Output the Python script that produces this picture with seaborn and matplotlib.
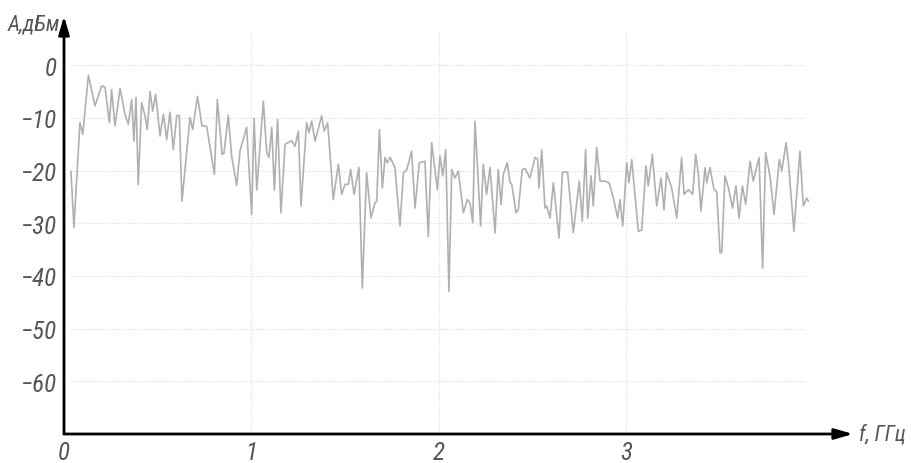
import numpy as np
import pandas as pd
import matplotlib
matplotlib.use("Agg")
import matplotlib.pyplot as plt
from matplotlib import font_manager
import seaborn as sns

# ---------------- data ----------------
freq_ghz = [
    0.037, 0.053, 0.085, 0.100, 0.130, 0.165, 0.201, 0.219, 0.242, 0.254,
    0.272, 0.299, 0.325, 0.343, 0.361, 0.373, 0.384, 0.396, 0.414, 0.432,
    0.444, 0.459, 0.473, 0.489, 0.512, 0.530, 0.548, 0.565, 0.583, 0.601,
    0.615, 0.629, 0.672, 0.686, 0.712, 0.736, 0.761, 0.802, 0.818, 0.843,
    0.853, 0.876, 0.894, 0.921, 0.939, 0.974, 1.001, 1.014, 1.028, 1.063,
    1.081, 1.093, 1.108, 1.122, 1.139, 1.157, 1.179, 1.214, 1.232, 1.250,
    1.264, 1.294, 1.307, 1.321, 1.339, 1.374, 1.388, 1.406, 1.424, 1.436,
    1.463, 1.481, 1.499, 1.516, 1.529, 1.547, 1.573, 1.591, 1.614, 1.637,
    1.659, 1.668, 1.682, 1.698, 1.712, 1.724, 1.739, 1.765, 1.792, 1.810,
    1.828, 1.854, 1.872, 1.895, 1.925, 1.943, 1.961, 1.991, 2.005, 2.020,
    2.036, 2.053, 2.068, 2.085, 2.103, 2.130, 2.151, 2.165, 2.180, 2.192,
    2.222, 2.236, 2.254, 2.272, 2.299, 2.316, 2.331, 2.343, 2.364, 2.379,
    2.388, 2.411, 2.423, 2.444, 2.459, 2.485, 2.512, 2.526, 2.533, 2.548,
    2.565, 2.574, 2.592, 2.610, 2.640, 2.658, 2.686, 2.716, 2.748, 2.764,
    2.782, 2.793, 2.811, 2.823, 2.841, 2.859, 2.885, 2.907, 2.930, 2.953,
    2.965, 2.980, 3.001, 3.013, 3.028, 3.063, 3.081, 3.104, 3.116, 3.138,
    3.161, 3.184, 3.200, 3.214, 3.241, 3.268, 3.294, 3.307, 3.330, 3.353,
    3.369, 3.383, 3.397, 3.419, 3.428, 3.445, 3.467, 3.481, 3.499, 3.508,
    3.525, 3.543, 3.566, 3.584, 3.600, 3.618, 3.636, 3.659, 3.676, 3.707,
    3.726, 3.742, 3.765, 3.787, 3.815, 3.828, 3.851, 3.863, 3.893, 3.925,
    3.943, 3.961, 3.970,
]
level_dbm = [
    -20.1, -30.8, -10.9, -13.1, -1.9, -7.7, -3.9, -4.2, -10.9, -4.6,
    -11.5, -4.4, -9.3, -11.2, -6.5, -14.4, -6.1, -22.6, -7.1, -9.6,
    -12.2, -5.0, -8.7, -5.5, -13.4, -9.3, -14.1, -8.9, -16.0, -9.6,
    -9.5, -25.8, -9.9, -12.2, -5.9, -11.5, -11.6, -20.7, -6.5, -16.9,
    -16.7, -9.5, -17.2, -22.8, -16.2, -11.8, -28.3, -10.1, -23.7, -6.8,
    -16.5, -17.5, -11.8, -23.7, -10.3, -28.0, -15.0, -14.3, -15.4, -12.5,
    -26.7, -10.9, -12.8, -10.6, -14.4, -9.6, -12.5, -10.9, -19.4, -25.5,
    -18.8, -24.5, -22.6, -22.6, -19.8, -24.5, -19.4, -42.3, -20.4, -29.0,
    -26.1, -25.8, -12.2, -23.3, -17.5, -18.5, -17.5, -19.4, -30.5, -20.4,
    -19.8, -16.3, -27.1, -18.5, -18.2, -32.5, -14.7, -23.6, -17.2, -21.0,
    -16.0, -42.9, -19.8, -21.4, -20.1, -28.0, -25.5, -26.1, -29.9, -10.6,
    -30.5, -18.8, -24.5, -19.4, -31.8, -19.8, -26.4, -20.7, -18.5, -22.3,
    -22.6, -28.0, -27.4, -19.8, -19.6, -21.4, -17.5, -17.8, -23.3, -16.0,
    -27.1, -26.7, -29.0, -22.3, -32.8, -20.3, -20.3, -31.8, -22.0, -29.6,
    -16.0, -29.0, -21.0, -26.7, -15.6, -22.0, -22.0, -22.3, -25.2, -29.0,
    -25.5, -30.5, -18.5, -22.3, -17.9, -31.5, -31.3, -19.1, -22.9, -16.9,
    -26.7, -21.4, -27.4, -20.4, -23.3, -29.0, -17.5, -24.5, -23.6, -24.5,
    -16.9, -20.5, -27.7, -19.4, -22.3, -19.4, -23.6, -24.0, -35.6, -35.6,
    -21.0, -23.2, -27.1, -22.9, -29.0, -22.9, -26.4, -18.2, -22.0, -17.5,
    -38.5, -16.6, -21.0, -28.3, -17.9, -20.1, -14.7, -18.2, -31.5, -16.3,
    -26.7, -25.2, -25.8,
]

x_ticks = [0, 1, 2, 3]
x_tick_labels = ["0", "1", "2", "3"]
y_ticks = [0, -10, -20, -30, -40, -50, -60]
y_tick_labels = ["0", "−10", "−20", "−30", "−40", "−50", "−60"]
x_label = "f, ГГц"
y_label = "A,дБм"

# ---------------- style ----------------
sns.set_style("white")
installed = {f.name for f in font_manager.fontManager.ttflist}
primary = "Roboto"
for cand in ["Liberation Sans Narrow", "Roboto Condensed", "Open Sans Condensed"]:
    if cand in installed:
        primary = cand
        break
FONT = [primary, "DejaVu Sans"]
plt.rcParams["font.family"] = FONT
TEXT_COLOR = "#555555"
FS = 18

fig = plt.figure(figsize=(9.12, 4.64), dpi=100)
ax = fig.add_axes([64 / 912, 29 / 464, (853 - 64) / 912, (435 - 17) / 464])

df = pd.DataFrame({"f": freq_ghz, "A": level_dbm})

# grid (light, dotted) from tick positions
ax.hlines(y_ticks, 0.04, 3.96, colors="#e6e6e6", linewidth=0.9,
          linestyles=(0, (1.5, 1)), zorder=0)
ax.vlines(x_ticks[1:], -70, 6.3, colors="#e6e6e6", linewidth=0.9,
          linestyles=(0, (1.5, 1)), zorder=0)

sns.lineplot(data=df, x="f", y="A", ax=ax, sort=False, estimator=None,
             color="#b0b0b0", linewidth=1.2, zorder=2)

ax.set_xlim(0, 4.208)
ax.set_ylim(-70, 9.36)

for s in ax.spines.values():
    s.set_visible(False)

# axes with arrows
arrow_kw = dict(arrowstyle="-|>,head_length=1.1,head_width=0.32",
                color="black", lw=2.0, shrinkA=0, shrinkB=0)
ax.annotate("", xy=(1, 0), xytext=(0, 0), xycoords="axes fraction",
            textcoords="axes fraction", arrowprops=arrow_kw, annotation_clip=False)
ax.annotate("", xy=(0, 1), xytext=(0, 0), xycoords="axes fraction",
            textcoords="axes fraction", arrowprops=arrow_kw, annotation_clip=False)

ax.set_xticks(x_ticks)
ax.set_xticklabels(x_tick_labels)
ax.set_yticks(y_ticks)
ax.set_yticklabels(y_tick_labels)
ax.tick_params(axis="both", length=0, labelsize=FS, colors=TEXT_COLOR)
ax.tick_params(axis="x", pad=4)
ax.tick_params(axis="y", pad=5)
for lab in ax.get_xticklabels() + ax.get_yticklabels():
    lab.set_fontstyle("italic")
    lab.set_family(FONT)

ax.set_xlabel("")
ax.set_ylabel("")
ax.text(-0.005, 1.005, y_label, transform=ax.transAxes, ha="right", va="top",
        fontsize=15.5, fontstyle="italic", color=TEXT_COLOR, family=FONT)
ax.text(1.008, 0.0, x_label, transform=ax.transAxes, ha="left", va="center",
        fontsize=15.5, fontstyle="italic", color=TEXT_COLOR, family=FONT)

fig.savefig("out.png", dpi=100, facecolor="white")
